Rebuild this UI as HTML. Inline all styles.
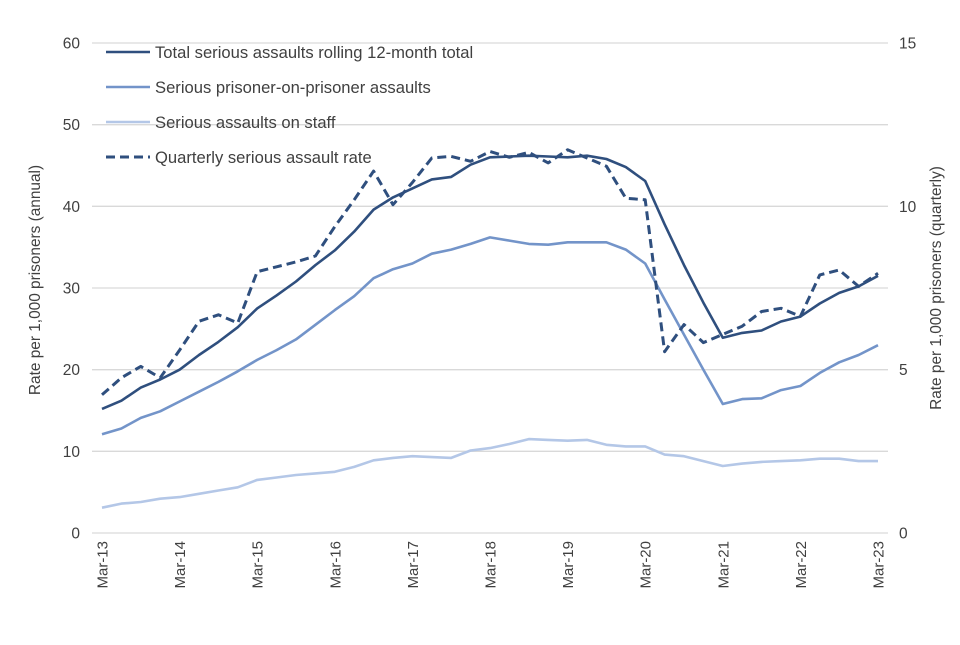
<!DOCTYPE html>
<html><head><meta charset="utf-8"><style>
body{margin:0;background:#fff;}
svg text{font-family:"Liberation Sans",Arial,sans-serif;fill:#404040;}
</style></head><body>
<svg id="chart" width="960" height="640"></svg>
<script>
const categories=["Mar-13","Jun-13","Sep-13","Dec-13","Mar-14","Jun-14","Sep-14","Dec-14","Mar-15","Jun-15","Sep-15","Dec-15","Mar-16","Jun-16","Sep-16","Dec-16","Mar-17","Jun-17","Sep-17","Dec-17","Mar-18","Jun-18","Sep-18","Dec-18","Mar-19","Jun-19","Sep-19","Dec-19","Mar-20","Jun-20","Sep-20","Dec-20","Mar-21","Jun-21","Sep-21","Dec-21","Mar-22","Jun-22","Sep-22","Dec-22","Mar-23"];
const totalRolling=[15.2,16.2,17.8,18.8,20.0,21.8,23.4,25.2,27.5,29.1,30.8,32.8,34.6,36.9,39.6,41.1,42.2,43.3,43.6,45.1,46.0,46.1,46.2,46.1,46.0,46.2,45.8,44.8,43.1,37.8,32.8,28.2,23.9,24.5,24.8,25.9,26.5,28.1,29.4,30.2,31.5];
const prisonerOnPrisoner=[12.1,12.8,14.1,14.9,16.1,17.3,18.5,19.8,21.2,22.4,23.7,25.5,27.3,29.0,31.2,32.3,33.0,34.2,34.7,35.4,36.2,35.8,35.4,35.3,35.6,35.6,35.6,34.7,33.0,28.6,24.3,20.0,15.8,16.4,16.5,17.5,18.0,19.6,20.9,21.8,23.0];
const onStaff=[3.1,3.6,3.8,4.2,4.4,4.8,5.2,5.6,6.5,6.8,7.1,7.3,7.5,8.1,8.9,9.2,9.4,9.3,9.2,10.1,10.4,10.9,11.5,11.4,11.3,11.4,10.8,10.6,10.6,9.6,9.4,8.8,8.2,8.5,8.7,8.8,8.9,9.1,9.1,8.8,8.8];
const quarterlyRate=[4.23,4.75,5.1,4.75,5.6,6.48,6.68,6.43,8.0,8.15,8.3,8.48,9.38,10.2,11.08,10.05,10.73,11.48,11.53,11.38,11.68,11.5,11.65,11.33,11.73,11.48,11.23,10.25,10.2,5.55,6.38,5.83,6.08,6.33,6.78,6.88,6.63,7.9,8.05,7.55,7.95];
const leftTicks=[0,10,20,30,40,50,60];
const rightTicks=[0,5,10,15];
const xLabels=["Mar-13","Mar-14","Mar-15","Mar-16","Mar-17","Mar-18","Mar-19","Mar-20","Mar-21","Mar-22","Mar-23"];

const NS="http://www.w3.org/2000/svg";
const svg=document.getElementById('chart');
const X0=102,X1=878,Y0=533,Y1=43;
const xPos=i=>X0+(X1-X0)*i/(categories.length-1);
const yL=v=>Y0-(Y0-Y1)*v/60;
const yR=v=>Y0-(Y0-Y1)*v/15;
function mk(tag,attrs,text){const e=document.createElementNS(NS,tag);for(const k in attrs)e.setAttribute(k,attrs[k]);if(text!==undefined)e.textContent=text;svg.appendChild(e);return e;}

leftTicks.forEach(t=>{
  if(t>0){const g=mk('line',{x1:92,x2:888,y1:yL(t),y2:yL(t),stroke:'#d9d9d9','stroke-width':1.3});
  
  }
  const l=mk('text',{x:80,y:yL(t)+5.5,'text-anchor':'end','font-size':15.5},t);
  
  
});
const ax=mk('line',{x1:92,x2:888,y1:Y0,y2:Y0,stroke:'#d9d9d9','stroke-width':1.3});


rightTicks.forEach(t=>{
  const l=mk('text',{x:899,y:yR(t)+5.5,'text-anchor':'start','font-size':15.5},t);
  
  
});
xLabels.forEach(lab=>{
  const i=categories.indexOf(lab);const x=xPos(i);
  const l=mk('text',{x:0,y:0,'text-anchor':'end','font-size':15,transform:`translate(${x+5.5},541) rotate(-90)`},lab);
  
  
});
const yt=mk('text',{x:0,y:0,'text-anchor':'middle','font-size':15.4,transform:'translate(40,280) rotate(-90)'},'Rate per 1,000 prisoners (annual)');


const yt2=mk('text',{x:0,y:0,'text-anchor':'middle','font-size':15.4,transform:'translate(941,288) rotate(-90)'},'Rate per 1,000 prisoners (quarterly)');



function line(vals,yf,color,dash,name){
  const d=vals.map((v,i)=>(i?'L':'M')+xPos(i).toFixed(1)+','+yf(v).toFixed(1)).join('');
  const p=mk('path',{d:d,fill:'none',stroke:color,'stroke-width':dash?3:2.6,'stroke-dasharray':dash?'9,5':'none','stroke-linejoin':'round'});
  
  
}
line(onStaff,yL,'#b4c7e7',false,'series-assaults-on-staff');
line(prisonerOnPrisoner,yL,'#7394c9',false,'series-prisoner-on-prisoner');
line(totalRolling,yL,'#2f4f7e',false,'series-total-rolling');
line(quarterlyRate,yR,'#2f4f7e',true,'series-quarterly-rate');

const legend=[["Total serious assaults rolling 12-month total",'#2f4f7e',false],["Serious prisoner-on-prisoner assaults",'#7394c9',false],["Serious assaults on staff",'#b4c7e7',false],["Quarterly serious assault rate",'#2f4f7e',true]];
legend.forEach((e,k)=>{
  const y=52+k*35;
  const s=mk('line',{x1:106,x2:150,y1:y,y2:y,stroke:e[1],'stroke-width':e[2]?3:2.6,'stroke-dasharray':e[2]?'9,5':'none'});
  
  
  const t=mk('text',{x:155,y:y+6,'font-size':16.6},e[0]);
  
  
});
</script>
</body></html>
